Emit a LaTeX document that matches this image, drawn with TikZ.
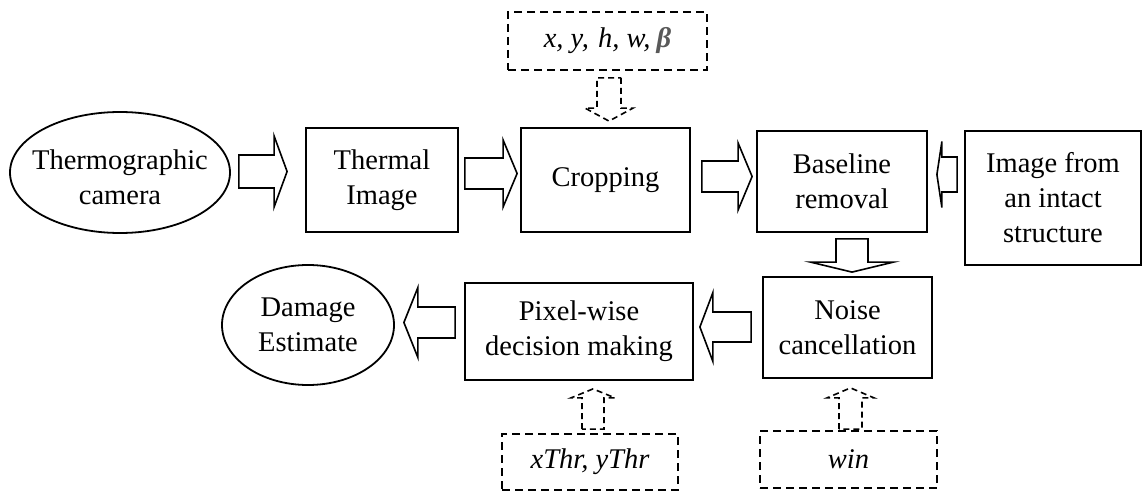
\documentclass[tikz,border=0pt]{standalone}
\usepackage{fontspec}
\setmainfont{Liberation Serif}
\usetikzlibrary{shapes.geometric,calc}

% Hollow block arrow: style, tail, tip, body half width, head half width, head length
\newcommand\blockarrow[6]{%
  \coordinate (ba-t) at #2;
  \coordinate (ba-p) at #3;
  \coordinate (ba-h) at ($(ba-p)!#6!(ba-t)$);
  \draw[#1] ($(ba-t)!#4!90:(ba-p)$) -- ($(ba-h)!#4!90:(ba-p)$)
    -- ($(ba-h)!#5!90:(ba-p)$) -- (ba-p) -- ($(ba-h)!#5!-90:(ba-p)$)
    -- ($(ba-h)!#4!-90:(ba-p)$) -- ($(ba-t)!#4!-90:(ba-p)$) -- cycle;
}

\tikzset{
  txt/.style={font=\fontsize{28.5}{35}\selectfont, align=center, inner sep=0pt},
  stepbox/.style={txt, draw, line width=1.8pt},
  oval/.style={draw, ellipse, inner sep=0pt, line width=1.8pt},
  parbox/.style={txt, draw, line width=1.8pt, dash pattern=on 8pt off 5pt},
  solidarrow/.style={draw, fill=white, line width=1.6pt, line join=miter},
  dasharrow/.style={draw, fill=white, line width=1.6pt, dash pattern=on 6pt off 4pt},
}

\begin{document}
\begin{tikzpicture}[x=1pt, y=-1pt]
\useasboundingbox (0,0) rectangle (1143,492);

% processing chain, top row
\node[oval, minimum width=220pt, minimum height=121pt] (cam) at (120,172.5) {};
\node[txt] (camtext) at ($(cam.center)+(0,5)$) {Thermographic\\camera};
\node[stepbox, minimum width=152pt, minimum height=104pt] (therm) at (382,180) {Thermal\\Image};
\node[stepbox, minimum width=169pt, minimum height=104pt] (crop) at (605.5,180) {Cropping};
\node[stepbox, minimum width=170pt, minimum height=101pt] (base) at (842,181.5) {Baseline\\removal};
\node[stepbox, minimum width=176pt, minimum height=134pt] (intact) at (1053,198) {Image from\\an intact\\structure};

% processing chain, bottom row
\node[stepbox, minimum width=169pt, minimum height=101pt] (noise) at (847.5,327.5) {Noise\\cancellation};
\node[stepbox, minimum width=228pt, minimum height=97pt] (pixel) at (579,331.5) {Pixel-wise\\decision making};
\node[oval, minimum width=172pt, minimum height=120pt] (damage) at (308,325) {};
\node[txt] (damagetext) at (damage.center) {Damage\\Estimate};

% parameter inputs
\node[parbox, minimum width=199pt, minimum height=58pt] (croppar) at (607.5,41)
  {\itshape x, y,\hspace{2pt} h, w,\hspace{6pt}{\bfseries\color{black!65}β}};
\node[parbox, minimum width=176pt, minimum height=56pt] (thrpar) at (590,462) {\itshape xThr, yThr};
\node[parbox, minimum width=177pt, minimum height=57pt] (winpar) at (848.5,459.5) {\itshape win};

% data flow
\blockarrow{solidarrow}{($(cam.east)+(8,-1)$)}{($(therm.west)+(-18,-8.5)$)}{16.5pt}{35.5pt}{13pt}
\blockarrow{solidarrow}{($(therm.east)+(6,-6.5)$)}{($(crop.west)+(-3,-6.5)$)}{15.5pt}{33.5pt}{14pt}
\blockarrow{solidarrow}{($(crop.east)+(11,-3.5)$)}{($(base.west)+(-4,-5)$)}{15.5pt}{33.5pt}{14pt}
\blockarrow{solidarrow}{($(intact.west)+(-7,-23.5)$)}{($(base.east)+(9,-7)$)}{17.5pt}{33pt}{5pt}
\blockarrow{solidarrow}{($(base.south)+(10,6)$)}{($(noise.north)+(4.5,-4)$)}{16pt}{41.5pt}{10pt}
\blockarrow{solidarrow}{($(noise.west)+(-11,-0.5)$)}{($(pixel.east)+(6,-4.5)$)}{15pt}{34.5pt}{13pt}
\blockarrow{solidarrow}{($(pixel.west)+(-9,-9)$)}{($(damage.east)+(9,-2.5)$)}{15.5pt}{35pt}{14pt}

% parameter flow
\blockarrow{dasharrow}{($(croppar.south)+(1.5,7)$)}{($(crop.north)+(3.5,-6)$)}{12pt}{24pt}{13pt}
\blockarrow{dasharrow}{($(thrpar.north)+(3,-4)$)}{($(pixel.south)+(14,8)$)}{11pt}{22pt}{9pt}
\blockarrow{dasharrow}{($(winpar.north)+(2,-1)$)}{($(noise.south)+(3,9)$)}{11.5pt}{23.5pt}{10pt}
\end{tikzpicture}
\end{document}
